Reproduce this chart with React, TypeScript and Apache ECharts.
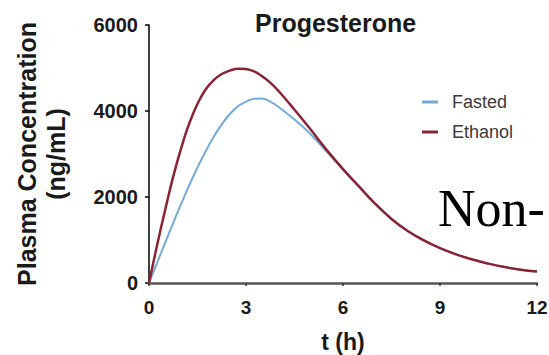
import React, { useEffect, useRef } from "react";
import * as echarts from "echarts";

const times = [0, 0.25, 0.5, 0.75, 1, 1.25, 1.5, 1.75, 2, 2.25, 2.5, 2.75, 3, 3.25, 3.5, 3.75, 4, 4.5, 5, 5.5, 6, 6.5, 7, 7.5, 8, 8.5, 9, 9.5, 10, 10.5, 11, 11.5, 12];
const fasted = [0, 470, 940, 1400, 1850, 2280, 2690, 3060, 3400, 3690, 3930, 4110, 4220, 4285, 4290, 4220, 4100, 3800, 3460, 3050, 2640, 2240, 1840, 1490, 1210, 990, 810, 665, 545, 450, 370, 310, 265];
const ethanol = [0, 880, 1700, 2480, 3150, 3720, 4170, 4500, 4720, 4860, 4940, 4985, 4975, 4920, 4810, 4660, 4470, 4030, 3570, 3090, 2650, 2240, 1840, 1490, 1210, 990, 810, 665, 545, 450, 370, 310, 265];
const xTicks = [0, 3, 6, 9, 12];
const yTicks = [0, 2000, 4000, 6000];
const seriesNames = ["Fasted", "Ethanol"];
const titleText = "Progesterone";
const yName = "Plasma Concentration\n(ng/mL)";
const xName = "t (h)";
const overlayText = "Non-";

const FONT = "'Liberation Sans', Arial, sans-serif";

export default function App() {
  const ref = useRef<HTMLDivElement>(null);
  useEffect(() => {
    if (!ref.current) return;
    const chart = echarts.init(ref.current, null, { renderer: "svg" });
    const pairs = (vals: number[]) => times.map((t, i) => [t, vals[i]]);
    chart.setOption({
      animation: false,
      backgroundColor: "#ffffff",
      title: {
        text: titleText,
        left: 255,
        top: 10,
        padding: 0,
        textStyle: { fontFamily: FONT, fontWeight: "bold", fontSize: 25, color: "#1a1a1a" },
      },
      legend: {
        orient: "vertical",
        left: 422,
        top: 92,
        padding: 0,
        itemWidth: 16,
        itemHeight: 3,
        itemGap: 10,
        icon: "rect",
        data: seriesNames,
        textStyle: { fontFamily: FONT, fontSize: 18, color: "#3a3a3a", lineHeight: 20, padding: [0, 0, 0, 9] },
      },
      grid: { left: 149, right: 12, top: 25, bottom: 72, containLabel: false, outerBoundsMode: "none" },
      xAxis: {
        type: "value",
        min: xTicks[0],
        max: xTicks[xTicks.length - 1],
        interval: 3,
        name: xName,
        nameLocation: "middle",
        nameGap: 47,
        nameTextStyle: { fontFamily: FONT, fontWeight: "bold", fontSize: 23, color: "#1a1a1a" },
        axisLine: { lineStyle: { color: "#555", width: 2.5 } },
        axisTick: { show: true, length: 3, lineStyle: { color: "#333", width: 1.5 } },
        axisLabel: { margin: 15, fontFamily: FONT, fontWeight: "bold", fontSize: 19, color: "#1a1a1a" },
        splitLine: { show: false },
      },
      yAxis: {
        type: "value",
        min: yTicks[0],
        max: yTicks[yTicks.length - 1],
        interval: 2000,
        name: yName,
        nameLocation: "middle",
        nameRotate: 90,
        nameGap: 79,
        nameTextStyle: { fontFamily: FONT, fontWeight: "bold", fontSize: 25, color: "#1a1a1a", lineHeight: 29 },
        axisLine: { show: true, lineStyle: { color: "#000", width: 1.5 } },
        axisTick: { show: true, length: 4, lineStyle: { color: "#000", width: 1.5 } },
        axisLabel: { margin: 11, fontFamily: FONT, fontWeight: "bold", fontSize: 20, color: "#1a1a1a", formatter: (v: number) => String(v) },
        splitLine: { show: false },
      },
      series: [
        {
          name: seriesNames[0],
          type: "line",
          smooth: 0.4,
          showSymbol: false,
          data: pairs(fasted),
          lineStyle: { color: "#74aad8", width: 2 },
          itemStyle: { color: "#74aad8" },
        },
        {
          name: seriesNames[1],
          type: "line",
          smooth: 0.4,
          showSymbol: false,
          data: pairs(ethanol),
          lineStyle: { color: "#8a2434", width: 2.5 },
          itemStyle: { color: "#8a2434" },
        },
      ],
      graphic: [
        {
          type: "text",
          left: 438,
          top: 182,
          style: {
            text: overlayText,
            fontFamily: "'Liberation Serif', 'Times New Roman', serif",
            fontSize: 52,
            fill: "#000",
          },
        },
      ],
    });
    return () => chart.dispose();
  }, []);
  return <div ref={ref} style={{ width: 549, height: 355, position: "absolute", left: 0, top: 0 }} />;
}
